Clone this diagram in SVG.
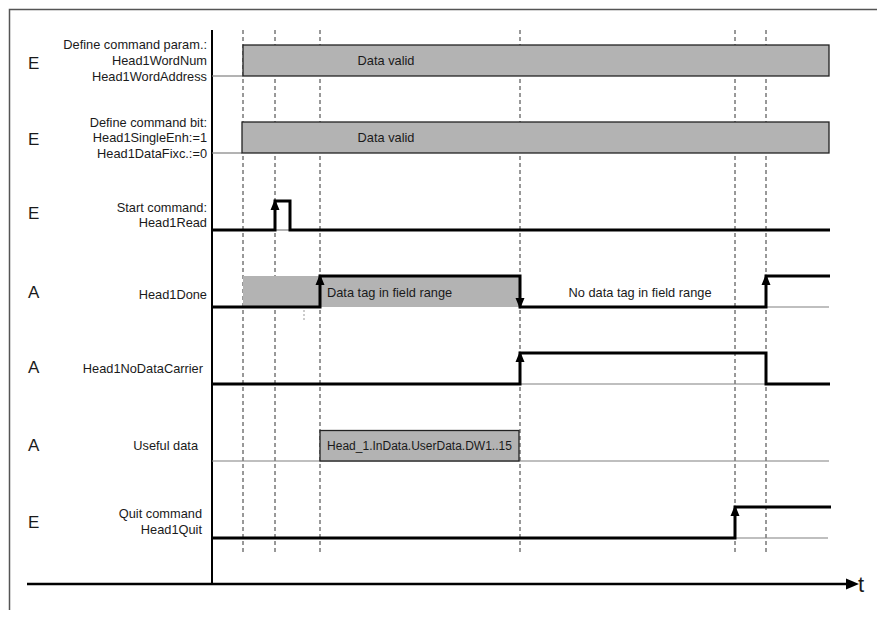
<svg xmlns="http://www.w3.org/2000/svg" xmlns:xlink="http://www.w3.org/1999/xlink" width="877" height="619" viewBox="0 0 877 619">
<style>
text{font-family:"Liberation Sans",Arial,sans-serif;fill:#1a1a1a}
.lbl{font-size:12.8px;text-anchor:end}
.io{font-size:17px}
.in{font-size:12.8px}
.sig{fill:none;stroke:#000;stroke-width:3;stroke-linejoin:miter;stroke-linecap:butt}
.base{fill:none;stroke:#808080;stroke-width:1.2}
.box{fill:#b3b3b3;stroke:#222;stroke-width:1.3}
.fill{fill:#b3b3b3;stroke:none}
.dash{stroke:#333;stroke-width:1;stroke-dasharray:4,3}
.frame{fill:none;stroke:#555;stroke-width:1.5}
</style>
<defs>
<path id="up" d="M0,0 L-4.5,11 L4.5,11 Z" fill="#000"/>
<path id="dn" d="M0,0 L-4.5,-11 L4.5,-11 Z" fill="#000"/>
</defs>
<rect width="877" height="619" fill="#fff"/>
<path class="frame" d="M9.5,610 V9.5 H877"/>

<g id="grid">
<line class="dash" x1="243" y1="30" x2="243" y2="553"/>
<line class="dash" x1="275" y1="30" x2="275" y2="553"/>
<line class="dash" x1="320" y1="30" x2="320" y2="553"/>
<line class="dash" x1="520" y1="30" x2="520" y2="553"/>
<line class="dash" x1="735" y1="30" x2="735" y2="553"/>
<line class="dash" x1="766" y1="30" x2="766" y2="553"/>
<line x1="304" y1="310" x2="304" y2="322" stroke="#999" stroke-width="1" stroke-dasharray="2,2"/>
</g>

<g id="axes">
<line x1="212" y1="30" x2="212" y2="584" stroke="#000" stroke-width="2"/>
<line x1="27" y1="584" x2="848" y2="584" stroke="#000" stroke-width="2.5"/>
<path d="M859,584 L846,578.5 L846,589.5 Z" fill="#000"/>
<text x="858" y="592" style="font-size:22px">t</text>
</g>

<g id="row-param">
<text class="io" x="28" y="69">E</text>
<text class="lbl" x="207" y="49">Define command param.:</text>
<text class="lbl" x="207" y="65">Head1WordNum</text>
<text class="lbl" x="207" y="80.5">Head1WordAddress</text>
<line class="base" x1="212" y1="76" x2="243" y2="76"/>
<rect class="box" x="243" y="45" width="586" height="31"/>
<text class="in" x="386" y="65" text-anchor="middle">Data valid</text>
</g>

<g id="row-bit">
<text class="io" x="28" y="145">E</text>
<text class="lbl" x="207" y="126.5">Define command bit:</text>
<text class="lbl" x="207" y="142">Head1SingleEnh:=1</text>
<text class="lbl" x="207" y="157.5">Head1DataFixc.:=0</text>
<line class="base" x1="212" y1="153" x2="242" y2="153"/>
<rect class="box" x="242" y="122" width="587" height="31"/>
<text class="in" x="386" y="142" text-anchor="middle">Data valid</text>
</g>

<g id="row-read">
<text class="io" x="28" y="219">E</text>
<text class="lbl" x="207" y="211.5">Start command:</text>
<text class="lbl" x="207" y="226.5">Head1Read</text>
<line class="base" x1="275" y1="230" x2="290" y2="230"/>
<path class="sig" d="M212,230 H275 V201 H290 V230 H830"/>
<use xlink:href="#up" x="275" y="199"/>
</g>

<g id="row-done">
<text class="io" x="28" y="298">A</text>
<text class="lbl" x="207" y="298.5">Head1Done</text>
<rect class="fill" x="243" y="276" width="277" height="31"/>
<line class="base" x1="766" y1="307" x2="829" y2="307"/>
<path class="sig" d="M212,307 H320 V276 H520 V307 H766 V276 H830"/>
<use xlink:href="#up" x="320" y="274"/>
<use xlink:href="#dn" x="520" y="309"/>
<use xlink:href="#up" x="766" y="274"/>
<text class="in" x="327" y="297">Data tag in field range</text>
<text class="in" x="640" y="297" text-anchor="middle">No data tag in field range</text>
</g>

<g id="row-nodatacarrier">
<text class="io" x="28" y="373">A</text>
<text class="lbl" x="203" y="372.5">Head1NoDataCarrier</text>
<line class="base" x1="520" y1="384" x2="766" y2="384"/>
<path class="sig" d="M212,384 H520 V353 H766 V384 H830"/>
<use xlink:href="#up" x="520" y="351"/>
</g>

<g id="row-usefuldata">
<text class="io" x="28" y="451">A</text>
<text class="lbl" x="198" y="449.5">Useful data</text>
<line class="base" x1="212" y1="461" x2="829" y2="461"/>
<rect class="box" x="320" y="430.5" width="199" height="30.5"/>
<text x="419.5" y="449.5" text-anchor="middle" style="font-size:12px">Head_1.InData.UserData.DW1..15</text>
</g>

<g id="row-quit">
<text class="io" x="28" y="528">E</text>
<text class="lbl" x="202" y="517.5">Quit command</text>
<text class="lbl" x="202" y="534">Head1Quit</text>
<line class="base" x1="735" y1="538" x2="828" y2="538"/>
<path class="sig" d="M212,538 H735 V507 H831"/>
<use xlink:href="#up" x="735" y="505"/>
</g>
</svg>
